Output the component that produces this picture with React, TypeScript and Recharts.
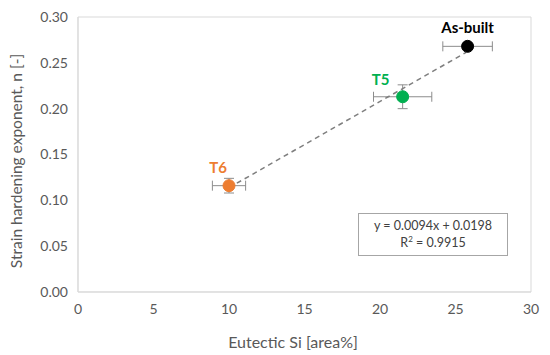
import React from "react";
import {
  ScatterChart,
  Scatter,
  XAxis,
  YAxis,
  ErrorBar,
  ReferenceArea,
} from "recharts";

// Heat-treatment conditions
const conditions = ["As-built", "T5", "T6"];
const siArea = [25.8, 21.5, 10.0];
const hardening = [0.268, 0.213, 0.116];
const siErr = [1.64, 1.93, 1.1];
const nErr = [0, 0.013, 0.008];
const pointColors = ["#000000", "#00b050", "#ed7d31"];

// Dashed linear trend, y = 0.0094x + 0.0198, drawn T6 -> As-built
const trendX = [10.0, 25.7];
const trendY = [0.1138, 0.2614];

const xTicks = [0, 5, 10, 15, 20, 25, 30];
const yTicks = [0, 0.05, 0.1, 0.15, 0.2, 0.25, 0.3];

const FONT = "Lato, 'Open Sans', sans-serif";
const TEXT = "#595959";
const BORDER = "#d9d9d9";

// where each condition's label sits relative to its marker
const LABEL_OFFSET: Record<string, [number, number]> = {
  "As-built": [0, -19],
  T5: [-22, -18],
  T6: [-11, -19],
};

const trendData = trendX.map((x, i) => ({ x, y: trendY[i] }));

const PointShape = (props: any) => {
  const { cx, cy, payload, fill } = props;
  const [dx, dy] = LABEL_OFFSET[payload.name] ?? [0, -18];
  return (
    <g>
      <circle cx={cx} cy={cy} r={6} fill={fill} stroke={fill} strokeWidth={1} />
      <text
        x={cx + dx}
        y={cy + dy}
        textAnchor="middle"
        dominantBaseline="central"
        fontFamily={FONT}
        fontWeight={700}
        fontSize={15}
        fill={fill}
      >
        {payload.name}
      </text>
    </g>
  );
};

// axis titles placed by hand, Excel doesn't centre them exactly on the plot
const XTitle = () => (
  <text
    x={293}
    y={341}
    textAnchor="middle"
    dominantBaseline="central"
    fill={TEXT}
    fontSize={16}
    fontFamily={FONT}
  >
    Eutectic Si [area%]
  </text>
);

const YTitle = () => (
  <text
    x={16}
    y={161}
    transform="rotate(-90, 16, 161)"
    textAnchor="middle"
    dominantBaseline="central"
    fill={TEXT}
    fontSize={15.5}
    fontFamily={FONT}
  >
    Strain hardening exponent, n [-]
  </text>
);

export default function App() {
  return (
    <div style={{ position: "relative", width: 550, height: 355, background: "#fff" }}>
      <style>{`body{margin:0}`}</style>
      <ScatterChart
        width={550}
        height={355}
        margin={{ top: 17, right: 19, bottom: 5, left: 0 }}
      >
        <ReferenceArea x1={0} x2={30} y1={0} y2={0.3} fill="none" stroke={BORDER} />
        <XAxis
          type="number"
          dataKey="x"
          domain={[0, 30]}
          ticks={xTicks}
          height={58}
          axisLine={{ stroke: BORDER }}
          tickLine={false}
          tickSize={0}
          tickMargin={12}
          tick={{ fill: TEXT, fontSize: 14, fontFamily: FONT }}
          label={<XTitle />}
        />
        <YAxis
          type="number"
          dataKey="y"
          domain={[0, 0.3]}
          ticks={yTicks}
          width={78}
          axisLine={{ stroke: BORDER }}
          tickLine={false}
          tickSize={0}
          tickMargin={10}
          tickFormatter={(v: number) => v.toFixed(2)}
          tick={{ fill: TEXT, fontSize: 14, fontFamily: FONT }}
          label={<YTitle />}
        />
        <Scatter
          data={trendData}
          line={{ stroke: "#7f7f7f", strokeWidth: 1.5, strokeDasharray: "5 4" }}
          shape={() => <g />}
          isAnimationActive={false}
        />
        {conditions.map((name, i) => (
          <Scatter
            key={name}
            data={[{ name, x: siArea[i], y: hardening[i], ex: siErr[i], ey: nErr[i] }]}
            fill={pointColors[i]}
            shape={PointShape}
            isAnimationActive={false}
          >
            <ErrorBar dataKey="ex" direction="x" width={5} stroke="#8c8c8c" strokeWidth={1} />
            <ErrorBar dataKey="ey" direction="y" width={5} stroke="#8c8c8c" strokeWidth={1} />
          </Scatter>
        ))}
      </ScatterChart>
      <div
        style={{
          position: "absolute",
          left: 358,
          top: 213,
          width: 148,
          height: 38,
          paddingTop: 3,
          border: "1px solid #a6a6a6",
          boxSizing: "content-box",
          background: "#fff",
          fontFamily: FONT,
          fontSize: 12.5,
          color: "#404040",
          textAlign: "center",
          lineHeight: "17px",
        }}
      >
        <div>y = 0.0094x + 0.0198</div>
        <div>
          R<sup style={{ fontSize: 8, lineHeight: 0 }}>2</sup> = 0.9915
        </div>
      </div>
    </div>
  );
}
